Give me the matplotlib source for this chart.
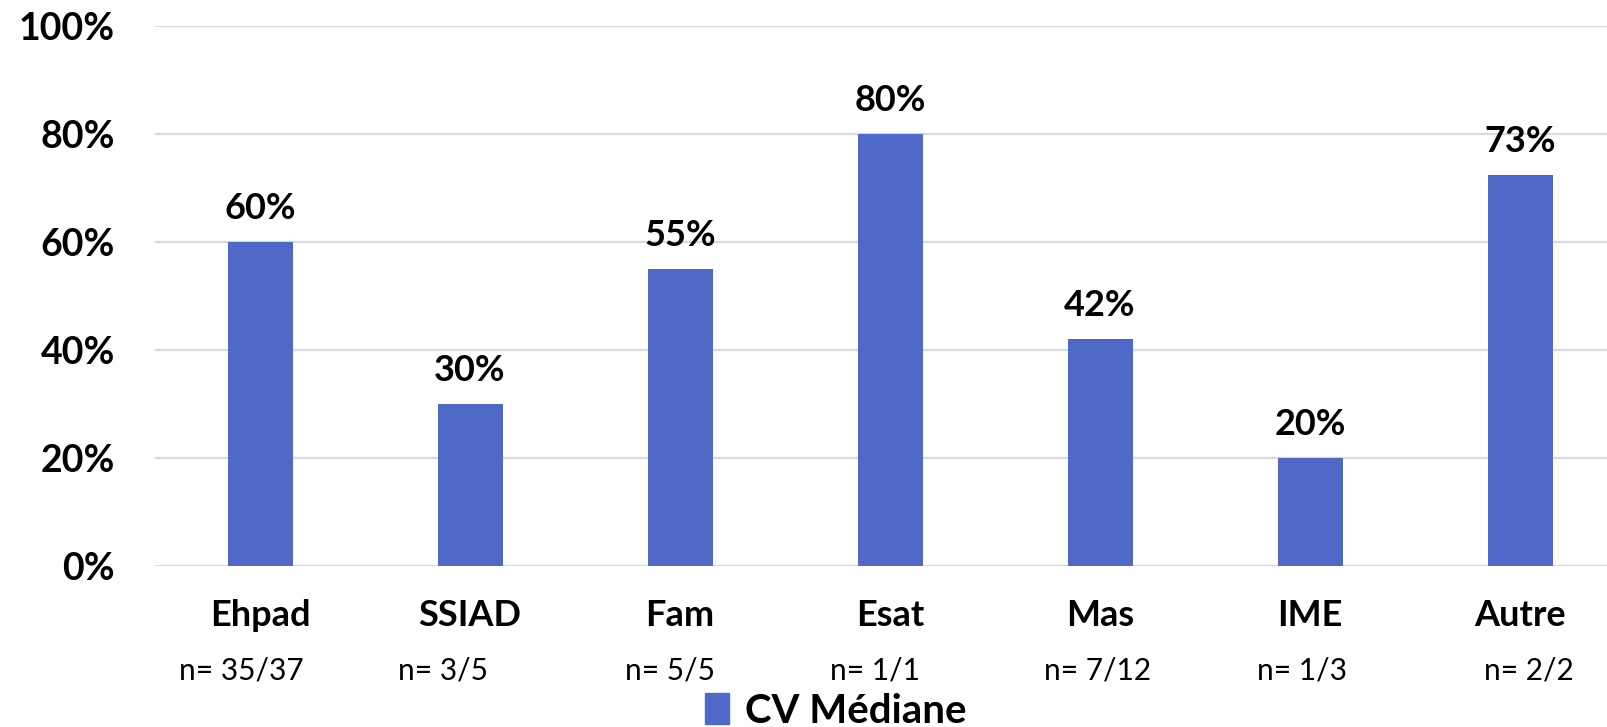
import numpy as np
import matplotlib.pyplot as plt
from matplotlib.patches import Patch
from matplotlib.transforms import blended_transform_factory

# data
categories = ['Ehpad', 'SSIAD', 'Fam', 'Esat', 'Mas', 'IME', 'Autre']
counts = ['n= 35/37', 'n= 3/5', 'n= 5/5', 'n= 1/1', 'n= 7/12', 'n= 1/3', 'n= 2/2']
values = [60, 30, 55, 80, 42, 20, 72.5]
labels = ['60%', '30%', '55%', '80%', '42%', '20%', '73%']
yticks = [0, 20, 40, 60, 80, 100]

# small horizontal shifts of the "n=" labels (in category units)
count_shift = [-0.09, -0.13, -0.05, -0.07, -0.01, -0.04, 0.04]

blue = '#5068C8'
grid = '#D9D9D9'

fig = plt.figure(figsize=(16.07, 7.27), dpi=100)
ax = fig.add_axes([0.0965, 0.2215, 0.9035, 0.7427])

x = np.arange(len(categories))
ax.bar(x, values, width=0.31, color=blue, zorder=3)

ax.set_ylim(0, 100)
ax.set_xlim(-0.5, 6.414)
ax.set_yticks(yticks)
ax.set_yticklabels([f'{v}%' for v in yticks], fontfamily='Lato',
                   fontweight='bold', fontsize=27)
ax.tick_params(axis='y', length=0, pad=29)
ax.set_xticks([])
ax.grid(axis='y', color=grid, linewidth=1.6, zorder=0)
for s in ax.spines.values():
    s.set_visible(False)

for xi, v, lab in zip(x, values, labels):
    ax.annotate(lab, (xi, v), xytext=(0, 24), textcoords='offset points',
                ha='center', va='center', fontfamily='Lato',
                fontweight='bold', fontsize=26)

tr = blended_transform_factory(ax.transData, ax.transAxes)
for xi, c, n, dx in zip(x, categories, counts, count_shift):
    ax.text(xi, -0.0926, c, transform=tr, ha='center', va='center',
            fontfamily='Lato', fontweight='bold', fontsize=26)
    ax.text(xi + dx, -0.194, n, transform=tr, ha='center', va='center',
            fontfamily='Lato', fontsize=21.5)

fig.legend(handles=[Patch(color=blue, label='CV Médiane')],
           loc='center', bbox_to_anchor=(0.52, 0.022), frameon=False,
           prop={'family': 'Lato', 'weight': 'bold', 'size': 29},
           handlelength=0.6, handleheight=0.8, handletextpad=0.4)

fig.savefig('out.png', dpi=100)
